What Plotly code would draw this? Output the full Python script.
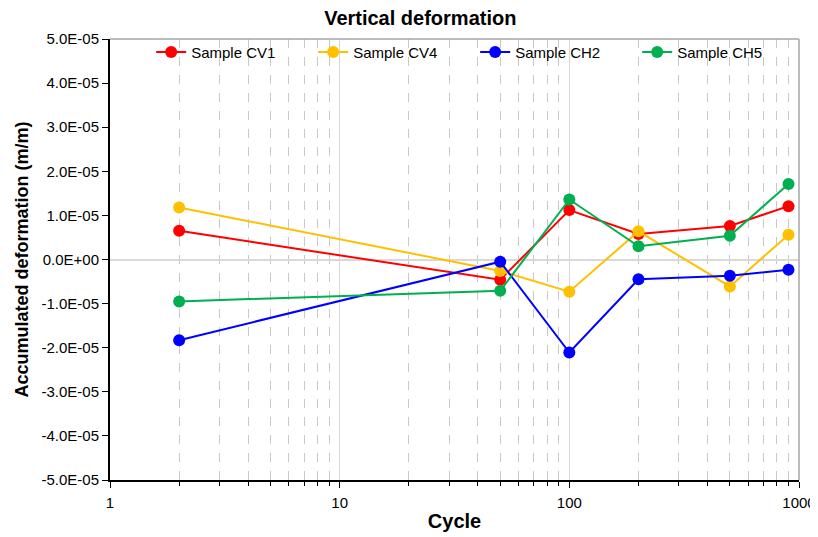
import plotly.graph_objects as go

cycles = [2, 50, 100, 200, 500, 900]
cv1 = [0.65e-5, -0.46e-5, 1.12e-5, 0.58e-5, 0.76e-5, 1.21e-5]
cv4 = [1.18e-5, -0.26e-5, -0.73e-5, 0.64e-5, -0.61e-5, 0.56e-5]
ch2 = [-1.83e-5, -0.05e-5, -2.11e-5, -0.45e-5, -0.37e-5, -0.23e-5]
ch5 = [-0.95e-5, -0.71e-5, 1.36e-5, 0.30e-5, 0.54e-5, 1.71e-5]

series_names = ["Sample CV1", "Sample CV4", "Sample CH2", "Sample CH5"]
series_colors = ["#FF0000", "#FFC000", "#0000FF", "#00B050"]

y_tickvals = [-5e-5, -4e-5, -3e-5, -2e-5, -1e-5, 0, 1e-5, 2e-5, 3e-5, 4e-5, 5e-5]
y_ticktext = ["-5.0E-05", "-4.0E-05", "-3.0E-05", "-2.0E-05", "-1.0E-05", "0.0E+00",
              "1.0E-05", "2.0E-05", "3.0E-05", "4.0E-05", "5.0E-05"]
x_tickvals = [1, 10, 100, 1000]
x_ticktext = ["1", "10", "100", "1000"]
x_minor_vals = [2, 3, 4, 5, 6, 7, 8, 9,
                20, 30, 40, 50, 60, 70, 80, 90,
                200, 300, 400, 500, 600, 700, 800, 900]

fig = go.Figure()
for name, vals, col in zip(series_names, [cv1, cv4, ch2, ch5], series_colors):
    fig.add_trace(go.Scatter(x=cycles, y=vals, name=name, mode="lines+markers",
                             line=dict(color=col, width=2),
                             marker=dict(color=col, size=12)))

fig.update_layout(
    width=810, height=529,
    margin=dict(l=102, r=19, t=31, b=57),
    paper_bgcolor="white", plot_bgcolor="white",
    font=dict(family="Liberation Sans, Arial, sans-serif", color="#000000", size=15),
    title=dict(text="<b>Vertical deformation</b>", x=0.509, xanchor="center",
               y=0.981, yanchor="middle", font=dict(size=20)),
    showlegend=True,
    legend=dict(orientation="h", x=0.53, xanchor="center", y=0.97, yanchor="middle",
                font=dict(size=15), bgcolor="rgba(0,0,0,0)", entrywidth=117,
                itemwidth=30),
)

fig.update_xaxes(
    type="log", range=[0, 3],
    tickvals=x_tickvals, ticktext=x_ticktext,
    showline=True, linecolor="#000000", linewidth=2, mirror=False,
    ticks="outside", ticklen=6, tickcolor="#000000",
    ticklabelstandoff=2, ticklabeloverflow="allow",
    showgrid=True, gridcolor="#D9D9D9", gridwidth=1,
    zeroline=False,
    minor=dict(tickmode="array", tickvals=x_minor_vals,
               showgrid=True, gridcolor="#C8C8C8", griddash="dash", gridwidth=1,
               ticks="outside", ticklen=4, tickcolor="#000000"),
    title=dict(text="<b>Cycle</b>", font=dict(size=20), standoff=4),
    tickfont=dict(size=15),
    automargin=False,
)
fig.update_yaxes(
    range=[-5e-5, 5e-5],
    tickvals=y_tickvals, ticktext=y_ticktext,
    showline=True, linecolor="#000000", linewidth=2,
    ticks="outside", ticklen=6, tickcolor="#000000",
    showgrid=False,
    zeroline=True, zerolinecolor="#D9D9D9", zerolinewidth=1.5,
    title=dict(text="<b>Accumulated deformation (m/m)</b>", font=dict(size=18), standoff=8),
    tickfont=dict(size=15),
    automargin=False,
)

# top and right gray borders of plot area
fig.add_shape(type="line", xref="paper", yref="paper", x0=0, x1=1, y0=1, y1=1,
              line=dict(color="#A6A6A6", width=1.5))
fig.add_shape(type="line", xref="paper", yref="paper", x0=1, x1=1, y0=0, y1=1,
              line=dict(color="#A6A6A6", width=1.5))

fig.write_html("out.html")
